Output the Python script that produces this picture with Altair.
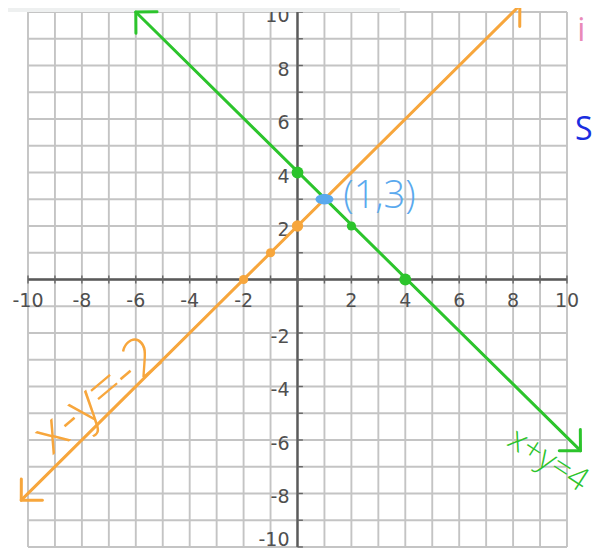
import math
import altair as alt
import pandas as pd

# ---- data ----
grid_values = list(range(-10, 11))
tick_labels = [-10, -8, -6, -4, -2, 2, 4, 6, 8, 10]
y_tick_labels_upper = [10, 8, 6, 4, 2, -2, -4, -6, -8]
y_tick_labels_bottom = [-10]

# x + y = 4  (green), arrow ends
green_line_x = [-6.0, 10.5]
green_line_y = [10.0, -6.4]
# x - y = -2 (orange), arrow ends
orange_line_x = [-10.25, 8.25]
orange_line_y = [-8.25, 10.25]

green_big_x = [0, 4]
green_big_y = [4, 0]
green_small_x = [2]
green_small_y = [2]
orange_big_x = [0]
orange_big_y = [2]
orange_small_x = [-2, -1]
orange_small_y = [0, 1]
solution_x = [1]
solution_y = [3]

note_texts = ["(1,3)", "x-y=-2", "x+y=4"]
note_x = [1.7, -7.4, 9.3]
note_y = [3.1, -4.36, -6.75]

edge_texts = ["i", "S"]
edge_x = [10.38, 10.3]
edge_y = [9.3, 5.6]

# ---- layout ----
W, H = 584, 543
X_DOM = [-10.742, 10.928]
Y_DOM = [-10.15, 10.15]
SX = W / (X_DOM[1] - X_DOM[0])
SY = H / (Y_DOM[1] - Y_DOM[0])

GREEN = "#2cc42c"
ORANGE = "#f7a63c"
BLUE = "#5aa9ee"

xs = alt.Scale(domain=X_DOM, nice=False, zero=False)
ys = alt.Scale(domain=Y_DOM, nice=False, zero=False)


def X(f="x"):
    return alt.X(f"{f}:Q", scale=xs, axis=None)


def Y(f="y"):
    return alt.Y(f"{f}:Q", scale=ys, axis=None)


lo, hi = min(grid_values), max(grid_values)

grid_df = pd.DataFrame({"v": grid_values, "lo": lo, "hi": hi})
vgrid = alt.Chart(grid_df).mark_rule(color="#c4c4c4", strokeWidth=1.9).encode(
    x=X("v"), y=Y("lo"), y2="hi")
hgrid = alt.Chart(grid_df).mark_rule(color="#c4c4c4", strokeWidth=1.9).encode(
    y=Y("v"), x=X("lo"), x2="hi")

axis_df = pd.DataFrame({"zero": [0], "lo": [lo], "hi": [hi]})
xaxis = alt.Chart(axis_df).mark_rule(color="#5a5a5a", strokeWidth=2.4).encode(
    y=Y("zero"), x=X("lo"), x2="hi")
yaxis = alt.Chart(axis_df).mark_rule(color="#5a5a5a", strokeWidth=2.4).encode(
    x=X("zero"), y=Y("lo"), y2="hi")

tick_df = pd.DataFrame({"v": grid_values, "a": -0.15, "b": 0.15, "c": 0.0, "d": 0.2})
xticks = alt.Chart(tick_df).mark_rule(color="#666666", strokeWidth=1.4).encode(
    x=X("v"), y=Y("a"), y2="b")
yticks = alt.Chart(tick_df).mark_rule(color="#666666", strokeWidth=1.4).encode(
    y=Y("v"), x=X("c"), x2="d")

LABEL_STYLE = dict(fontSize=19, font="DejaVu Sans", color="#4f4f4f", baseline="middle")

xlab_df = pd.DataFrame({"v": tick_labels, "zero": 0})
xlab_df["t"] = xlab_df["v"].astype(str)
xlabels = alt.Chart(xlab_df).mark_text(dy=21, align="center", **LABEL_STYLE).encode(
    x=X("v"), y=Y("zero"), text="t:N")

yup_df = pd.DataFrame({"v": y_tick_labels_upper, "zero": 0})
yup_df["t"] = yup_df["v"].astype(str)
ylabels = alt.Chart(yup_df).mark_text(dx=-8, dy=4, align="right", **LABEL_STYLE).encode(
    y=Y("v"), x=X("zero"), text="t:N")

ybot_df = pd.DataFrame({"v": y_tick_labels_bottom, "zero": 0})
ybot_df["t"] = ybot_df["v"].astype(str)
ylabels_bottom = alt.Chart(ybot_df).mark_text(dx=-8, dy=-7, align="right", **LABEL_STYLE).encode(
    y=Y("v"), x=X("zero"), text="t:N")

band_df = pd.DataFrame({"x": [X_DOM[0]], "x2": [3.8], "y": [10.0], "y2": [Y_DOM[1]]})
band = alt.Chart(band_df).mark_rect(color="#eef0f0").encode(
    x=X("x"), x2="x2", y=Y("y"), y2="y2")

lines_df = pd.concat([
    pd.DataFrame({"x": green_line_x, "y": green_line_y, "s": "g", "o": [0, 1]}),
    pd.DataFrame({"x": orange_line_x, "y": orange_line_y, "s": "o", "o": [0, 1]}),
])
color_scale = alt.Scale(domain=["g", "o"], range=[GREEN, ORANGE])
lines = alt.Chart(lines_df).mark_line(strokeWidth=3, strokeCap="round").encode(
    x=X(), y=Y(), order="o:Q",
    color=alt.Color("s:N", scale=color_scale, legend=None), detail="s:N")

# arrowheads at both ends of each line, oriented along the line
heads = []
for name, lx, ly in [("g", green_line_x, green_line_y), ("o", orange_line_x, orange_line_y)]:
    for tip, other in [(0, 1), (1, 0)]:
        dx = (lx[tip] - lx[other]) * SX
        dy = -(ly[tip] - ly[other]) * SY
        ang = math.degrees(math.atan2(dy, dx)) % 360
        heads.append({"x": lx[tip], "y": ly[tip], "s": name, "ang": ang})
heads_df = pd.DataFrame(heads)
arrowheads = alt.Chart(heads_df).mark_point(
    shape="M -1 -1 L 0 0 L -1 1", filled=False, strokeWidth=3, size=900, opacity=1,
    strokeCap="round", strokeJoin="round"
).encode(x=X(), y=Y(), angle=alt.Angle("ang:Q", scale=None),
         color=alt.Color("s:N", scale=color_scale, legend=None))

gbig = alt.Chart(pd.DataFrame({"x": green_big_x, "y": green_big_y})).mark_circle(
    color=GREEN, size=140, opacity=1).encode(x=X(), y=Y())
gsmall = alt.Chart(pd.DataFrame({"x": green_small_x, "y": green_small_y})).mark_circle(
    color=GREEN, size=85, opacity=1).encode(x=X(), y=Y())
obig = alt.Chart(pd.DataFrame({"x": orange_big_x, "y": orange_big_y})).mark_circle(
    color=ORANGE, size=130, opacity=1).encode(x=X(), y=Y())
osmall = alt.Chart(pd.DataFrame({"x": orange_small_x, "y": orange_small_y})).mark_circle(
    color=ORANGE, size=85, opacity=1).encode(x=X(), y=Y())
sol = alt.Chart(pd.DataFrame({"x": solution_x, "y": solution_y})).mark_point(
    shape="M -1.3 0 A 1.3 0.75 0 1 0 1.3 0 A 1.3 0.75 0 1 0 -1.3 0 Z",
    filled=True, color=BLUE, size=190, opacity=1).encode(x=X(), y=Y())

notes_df = pd.DataFrame({"t": note_texts, "x": note_x, "y": note_y})
n13 = alt.Chart(notes_df.iloc[[0]]).mark_text(
    font="Open Sans", fontSize=38, fontWeight=300, color=BLUE, align="left", baseline="middle"
).encode(x=X(), y=Y(), text="t:N")
norange = alt.Chart(notes_df.iloc[[1]]).mark_text(
    font="Open Sans", fontSize=54, fontWeight=300, color=ORANGE, align="center",
    baseline="middle", angle=320
).encode(x=X(), y=Y(), text="t:N")
ngreen = alt.Chart(notes_df.iloc[[2]]).mark_text(
    font="Open Sans", fontSize=33, fontWeight=300, color=GREEN, align="center",
    baseline="middle", angle=33
).encode(x=X(), y=Y(), text="t:N")

edge_df = pd.DataFrame({"t": edge_texts, "x": edge_x, "y": edge_y})
epink = alt.Chart(edge_df.iloc[[0]]).mark_text(
    font="Open Sans", fontSize=32, color="#e98ab8", align="left", baseline="middle"
).encode(x=X(), y=Y(), text="t:N")
eblue = alt.Chart(edge_df.iloc[[1]]).mark_text(
    font="Open Sans", fontSize=32, color="#1a2ee0", align="left", baseline="middle"
).encode(x=X(), y=Y(), text="t:N")

chart = alt.layer(
    vgrid, hgrid, xaxis, yaxis, xticks, yticks, xlabels, ylabels, ylabels_bottom, band,
    lines, arrowheads, osmall, obig, gbig, gsmall, sol, n13, norange, ngreen, epink, eblue
).properties(
    width=W, height=H,
    padding=0,
    autosize=alt.AutoSizeParams(type="none"),
).configure_view(stroke=None)

chart.save("out.html", embed_options={"renderer": "svg", "actions": False})
